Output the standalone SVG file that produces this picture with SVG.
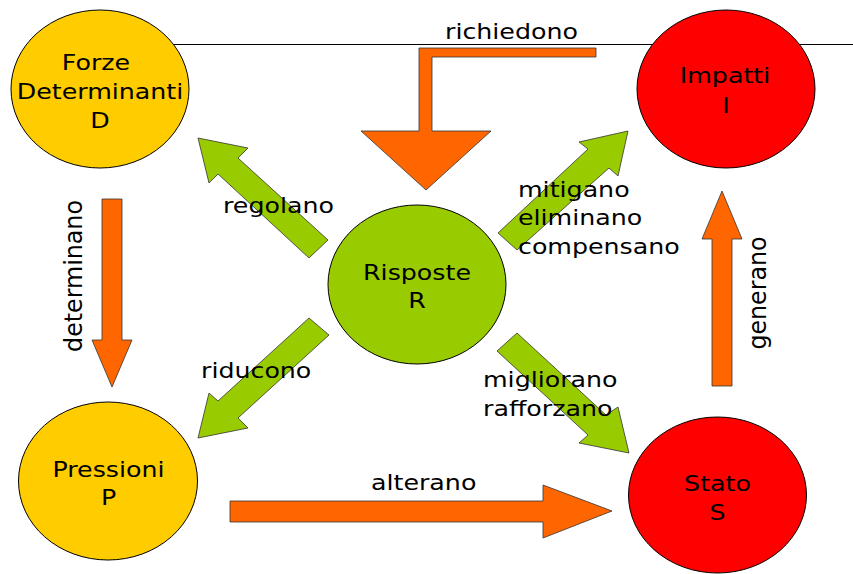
<svg xmlns="http://www.w3.org/2000/svg" width="853" height="574" viewBox="0 0 853 574">
<style>
text{font-family:"DejaVu Sans","Verdana",sans-serif;font-size:22px;fill:#000}
.node text{text-anchor:middle}
.ell{stroke:#000;stroke-width:1}
.yel{fill:#FFCC00}
.red{fill:#FF0000}
.grn{fill:#99CC00}
.oa{fill:#FF6600;stroke:#333;stroke-width:0.8;stroke-linejoin:miter}
.ga{fill:#99CC00;stroke:#333;stroke-width:0.8;stroke-linejoin:miter}
.rule{stroke:#000;stroke-width:1.2;fill:none}
</style>
<rect width="853" height="574" fill="#fff"/>
<g id="connectors">
  <line class="rule" x1="120" y1="44.5" x2="853" y2="44.5"/>
  <!-- richiedono: bent arrow into R -->
  <polygon class="oa" points="419,48 596,48 596,57 432,57 432,131 491,131 426,190 361,131 419,131"/>
  <!-- determinano: D -> P -->
  <polygon class="oa" points="102,199 122,199 122,340 132,340 112,387 92,340 102,340"/>
  <!-- generano: S -> I -->
  <polygon class="oa" points="712,386 732,386 732,239 742,239 722,191 702,239 712,239"/>
  <!-- alterano: P -> S -->
  <polygon class="oa" points="230,501 543,501 543,485 612,511 543,538 543,522 230,522"/>
  <!-- regolano: R -> D -->
  <polygon class="ga" points="198,138 248,148 238,158 328,240 309,258 218,174 209,183"/>
  <!-- mitigano: R -> I -->
  <polygon class="ga" points="628,131 618,176 609,168 517,250 498,233 588,149 579,142"/>
  <!-- riducono: R -> P -->
  <polygon class="ga" points="309,318 329,335 238,418 248,428 198,438 209,393 218,401"/>
  <!-- migliorano: R -> S -->
  <polygon class="ga" points="517,333 606,415 618,407 629,453 579,443 588,435 497,351"/>
  <text transform="translate(445,39) scale(1.15,1)">richiedono</text>
  <text transform="translate(223,213) scale(1.15,1)">regolano</text>
  <text transform="translate(201,378) scale(1.15,1)">riducono</text>
  <text transform="translate(518,197) scale(1.15,1)"><tspan x="0" y="0">mitigano</tspan><tspan x="0" y="28.5">eliminano</tspan><tspan x="0" y="57">compensano</tspan></text>
  <text transform="translate(483,387) scale(1.15,1)"><tspan x="0" y="0">migliorano</tspan><tspan x="0" y="29">rafforzano</tspan></text>
  <text transform="translate(371,490) scale(1.15,1)">alterano</text>
  <text transform="translate(82,276) rotate(-90) scale(1.08,1.1)" text-anchor="middle">determinano</text>
  <text transform="translate(766,293) rotate(-90) scale(1.08,1.1)" text-anchor="middle">generano</text>
</g>
<g id="node-D" class="node">
  <ellipse class="ell yel" cx="100" cy="89" rx="89" ry="79"/>
  <text transform="translate(96,70) scale(1.15,1)">Forze</text>
  <text transform="translate(100,99) scale(1.15,1)">Determinanti</text>
  <text transform="translate(100,128) scale(1.15,1)">D</text>
</g>
<g id="node-I" class="node">
  <ellipse class="ell red" cx="726" cy="89" rx="89" ry="79"/>
  <text transform="translate(725,83) scale(1.15,1)">Impatti</text>
  <text transform="translate(726,113) scale(1.15,1)">I</text>
</g>
<g id="node-R" class="node">
  <ellipse class="ell grn" cx="417" cy="284.5" rx="89" ry="79.5"/>
  <text transform="translate(417,280) scale(1.15,1)">Risposte</text>
  <text transform="translate(417,308) scale(1.15,1)">R</text>
</g>
<g id="node-P" class="node">
  <ellipse class="ell yel" cx="108" cy="481" rx="89.5" ry="79"/>
  <text transform="translate(108.5,477) scale(1.15,1)">Pressioni</text>
  <text transform="translate(108.5,505) scale(1.15,1)">P</text>
</g>
<g id="node-S" class="node">
  <ellipse class="ell red" cx="717.5" cy="495" rx="89" ry="78"/>
  <text transform="translate(717.5,491) scale(1.15,1)">Stato</text>
  <text transform="translate(717.5,520) scale(1.15,1)">S</text>
</g>
</svg>
